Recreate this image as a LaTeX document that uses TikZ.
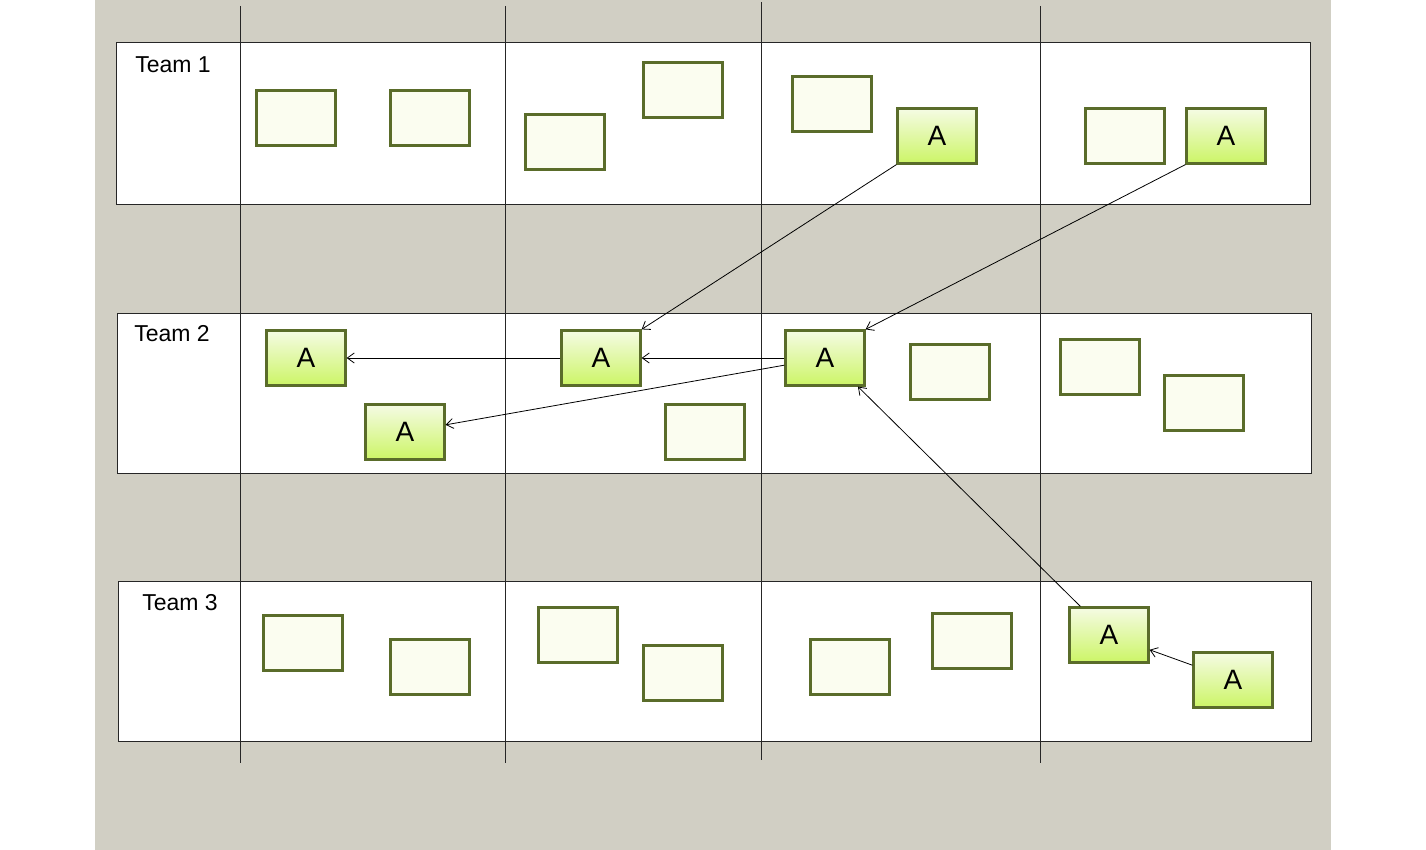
\documentclass[tikz,border=0pt]{standalone}
\usepackage{fontspec}
\setmainfont{Liberation Sans}
\usepackage{tikz}
\usetikzlibrary{arrows.meta}

\definecolor{boardgray}{RGB}{209,207,196}
\definecolor{cardedge}{RGB}{90,108,42}
\definecolor{cardpale}{RGB}{251,253,240}
\definecolor{cardtop}{RGB}{245,251,228}
\definecolor{cardbottom}{RGB}{204,245,102}

\begin{document}
\begin{tikzpicture}[x=1pt,y=-1pt,
    card/.style={draw=cardedge,line width=2.2pt,fill=cardpale,minimum width=79pt,minimum height=55pt,inner sep=0pt},
    acard/.style={card,top color=cardtop,bottom color=cardbottom,font=\fontsize{28}{30}\selectfont},
    team/.style={font=\fontsize{23}{26}\selectfont},
    lane/.style={draw=black!85,line width=0.9pt},
    pass/.style={-{Straight Barb[length=7pt,width=10pt,line width=0.8pt]},line width=0.8pt}]
    \useasboundingbox (0,0) rectangle (1426,850);
    \fill[white] (0,0) rectangle (1426,850);
    \fill[boardgray] (95,0) rectangle (1331,850);

    % team rows
    \draw[lane,fill=white] (116,42) rectangle (1310,204);
    \draw[lane,fill=white] (117,313) rectangle (1311,473);
    \draw[lane,fill=white] (118,581) rectangle (1311,741);

    % columns
    \draw[lane] (240,6) -- (240,763);
    \draw[lane] (505,6) -- (505,763);
    \draw[lane] (761,2) -- (761,760);
    \draw[lane] (1040,6) -- (1040,763);

    \node[team] (t1) at (173,65) {Team 1};
    \node[team] (t2) at (172,334) {Team 2};
    \node[team] (t3) at (180,603) {Team 3};

    % team 1
    \node[card] (c11) at (296,118) {};
    \node[card] (c12) at (430,118) {};
    \node[card] (c13) at (565,142) {};
    \node[card] (c14) at (683,90) {};
    \node[card] (c15) at (832,104) {};
    \node[acard] (a11) at (937,136) {A};
    \node[card] (c16) at (1125,136) {};
    \node[acard] (a12) at (1226,136) {A};

    % team 2
    \node[acard] (a21) at (306,358) {A};
    \node[acard] (a22) at (601,358) {A};
    \node[acard] (a23) at (825,358) {A};
    \node[acard] (a24) at (405,432) {A};
    \node[card] (c21) at (705,432) {};
    \node[card] (c22) at (950,372) {};
    \node[card] (c23) at (1100,367) {};
    \node[card] (c24) at (1204,403) {};

    % team 3
    \node[card] (c31) at (303,643) {};
    \node[card] (c32) at (430,667) {};
    \node[card] (c33) at (578,635) {};
    \node[card] (c34) at (683,673) {};
    \node[card] (c35) at (850,667) {};
    \node[card] (c36) at (972,641) {};
    \node[acard] (a31) at (1109,635) {A};
    \node[acard] (a32) at (1233,680) {A};

    \draw[pass] (a11.south west) -- (a22.north east);
    \draw[pass] (a12.south west) -- (a23.north east);
    \draw[pass] (a23.west) -- (a22.east);
    \draw[pass] (a22.west) -- (a21.east);
    \draw[pass] (a23.190) -- (a24.10);
    \draw[pass] (a31.135) -- (a23.-41);
    \draw[pass] (a32.160) -- (a31.-20);

\end{tikzpicture}
\end{document}
